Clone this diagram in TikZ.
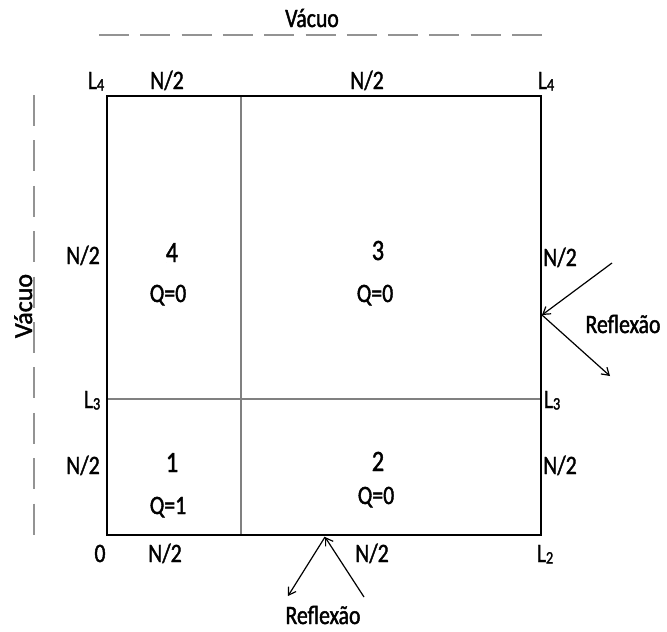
\documentclass[tikz,border=0pt]{standalone}
\usepackage{fontspec}
\setmainfont[FakeStretch=0.82,FakeBold=1.5]{Carlito}
\newfontfamily\vfont[FakeBold=1.5]{Carlito}
\usetikzlibrary{arrows.meta}
\newcommand{\Lsub}[1]{L\raisebox{-1.5pt}{\fontsize{17.5}{17.5}\selectfont #1}}
\tikzset{
  lbl/.style={font=\fontsize{26.5}{26.5}\selectfont, inner sep=0pt, anchor=base},
  reg/.style={font=\fontsize{29.5}{29.5}\selectfont, inner sep=0pt, anchor=base},
  outer/.style={line width=2.4pt, black},
  inner/.style={line width=1.3pt, gray},
  vac/.style={line width=1.4pt, gray!85},
  ray/.style={line width=1.2pt, -{Straight Barb[length=7pt,width=9pt]}},
}
\begin{document}
\begin{tikzpicture}[x=1pt,y=-1pt]
\useasboundingbox (0,0) rectangle (667,632);
% box corners
\coordinate (A) at (107,96);
\coordinate (B) at (541,96);
\coordinate (C) at (541,535);
\coordinate (D) at (107,535);
\coordinate (vt) at (241,96);
\coordinate (vb) at (241,535);
\coordinate (hl) at (107,399);
\coordinate (hr) at (541,399);
\draw[inner] (vt) -- (vb);
\draw[inner] (hl) -- (hr);
\draw[outer] (A) -- (B) -- (C) -- (D) -- cycle;
% vacuum dashed lines
\coordinate (t1) at (99,35);
\coordinate (t2) at (543,35);
\coordinate (l1) at (34,95);
\coordinate (l2) at (34,537);
\draw[vac, dash pattern=on 30pt off 11.3pt] (t1) -- (t2);
\draw[vac, dash pattern=on 31pt off 14.4pt] (l1) -- (l2);
\node[lbl] (vtop) at (312,27) {Vácuo};
\node[font=\vfont\fontsize{26}{26}\selectfont, inner sep=0pt, anchor=base, rotate=90] (vleft) at (32,306) {Vácuo};
% top labels
\node[lbl] (tl4a) at (96,89) {\Lsub{4}};
\node[lbl] (tn1) at (167,89) {N/2};
\node[lbl] (tn2) at (367,89) {N/2};
\node[lbl] (tl4b) at (546,89) {\Lsub{4}};
% bottom labels
\node[lbl] (b0) at (100,562) {0};
\node[lbl] (bn1) at (165,562) {N/2};
\node[lbl] (bn2) at (372,562) {N/2};
\node[lbl] (bl2) at (545,562) {\Lsub{2}};
% left labels
\node[lbl] (ln1) at (83,264) {N/2};
\node[lbl] (ll3) at (92,408) {\Lsub{3}};
\node[lbl] (ln2) at (83,474) {N/2};
% right labels
\node[lbl] (rn1) at (560,266) {N/2};
\node[lbl] (rl3) at (552,408) {\Lsub{3}};
\node[lbl] (rn2) at (560,474) {N/2};
% regions
\node[reg] (r4) at (172,262) {4};
\node[lbl] (q4) at (168,302) {Q=0};
\node[reg] (r3) at (378,260) {3};
\node[lbl] (q3) at (375,302) {Q=0};
\node[reg] (r1) at (172,472) {1};
\node[lbl] (q1) at (168,514) {Q=1};
\node[reg] (r2) at (378,471) {2};
\node[lbl] (q2) at (376,504) {Q=0};
% reflections
\coordinate (pr) at (542,315);
\coordinate (ri) at (612,263);
\coordinate (ro) at (610,376);
\draw[ray] (ri) -- (pr);
\draw[ray] (pr) -- (ro);
\node[lbl] (refr) at (623,333) {Reflexão};
\coordinate (pb) at (325,537);
\coordinate (bi) at (364,597);
\coordinate (bo) at (288,596);
\draw[ray] (bi) -- (pb);
\draw[ray] (pb) -- (bo);
\node[lbl] (refb) at (323,624) {Reflexão};
\end{tikzpicture}
\end{document}
